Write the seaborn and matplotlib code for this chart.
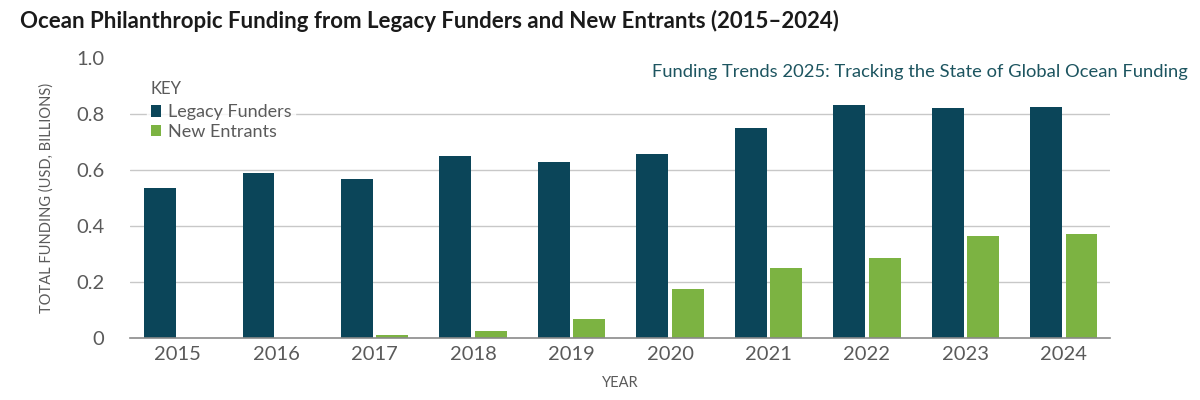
import pandas as pd
import seaborn as sns
import matplotlib.pyplot as plt
from matplotlib.patches import Patch

YEARS = ["2015", "2016", "2017", "2018", "2019", "2020", "2021", "2022", "2023", "2024"]
LEGACY = [0.535, 0.589, 0.569, 0.650, 0.630, 0.658, 0.751, 0.831, 0.821, 0.826]
NEW = [0.0, 0.0, 0.012, 0.025, 0.069, 0.176, 0.250, 0.285, 0.365, 0.372]
GROUPS = ["Legacy Funders", "New Entrants"]

COLORS = {"Legacy Funders": "#0b4559", "New Entrants": "#7cb342"}
TEXT_GRAY = "#5a5a5a"
GRID_COLOR = "#c8c8c8"
TEAL = "#1d5560"

df = pd.DataFrame({"year": YEARS * 2,
                   "funding": LEGACY + NEW,
                   "funder": [GROUPS[0]] * len(YEARS) + [GROUPS[1]] * len(YEARS)})

sns.set_style("white")
plt.rcParams["font.family"] = ["Lato", "DejaVu Sans"]

fig = plt.figure(figsize=(12, 4), dpi=100)
ax = fig.add_axes([0.108, 0.155, 0.817, 0.70])

sns.barplot(ax=ax, data=df, x="year", y="funding", hue="funder",
            hue_order=GROUPS, palette=COLORS, width=0.72, gap=0.1,
            saturation=1, legend=False, linewidth=0)

ax.set_xlim(-0.49, 9.47)
ax.set_ylim(0, 1.0)
ax.set_yticks([0, 0.2, 0.4, 0.6, 0.8, 1.0])
ax.set_yticklabels(["0", "0.2", "0.4", "0.6", "0.8", "1.0"])
ax.set_axisbelow(True)
for y in [0.2, 0.4, 0.6, 0.8]:
    ax.axhline(y, color=GRID_COLOR, linewidth=1, zorder=0)

for side in ["top", "right", "left"]:
    ax.spines[side].set_visible(False)
ax.spines["bottom"].set_color("#8a8a8a")
ax.spines["bottom"].set_linewidth(1.2)
ax.tick_params(axis="both", length=0, labelsize=14.5, colors=TEXT_GRAY, pad=6)
ax.tick_params(axis="y", pad=18)

ax.set_xlabel("YEAR", fontsize=10.5, color=TEXT_GRAY, labelpad=9)
ax.set_ylabel("TOTAL FUNDING (USD, BILLIONS)", fontsize=10.5, color=TEXT_GRAY, labelpad=16)

handles = [Patch(facecolor=COLORS[g], edgecolor="none", label=g) for g in GROUPS]
leg = ax.legend(handles=handles, title="KEY", loc="upper left",
                bbox_to_anchor=(0.018, 0.93), frameon=True, fontsize=13,
                title_fontsize=12, handlelength=0.55, handleheight=0.6,
                handletextpad=0.4, labelspacing=0.2, borderpad=0.2,
                borderaxespad=0)
leg.get_frame().set_facecolor("white")
leg.get_frame().set_edgecolor("white")
leg._legend_box.align = "left"
leg._legend_box.sep = 5
leg.get_title().set_color(TEXT_GRAY)
for t in leg.get_texts():
    t.set_color(TEXT_GRAY)

fig.text(0.017, 0.947, "Ocean Philanthropic Funding from Legacy Funders and New Entrants (2015\u20132024)",
         fontsize=16, fontweight="bold", color="#1a1a1a", ha="left", va="center")
fig.text(0.99, 0.82, "Funding Trends 2025: Tracking the State of Global Ocean Funding",
         fontsize=13.2, color=TEAL, ha="right", va="center")

fig.savefig("out.png", dpi=100)
